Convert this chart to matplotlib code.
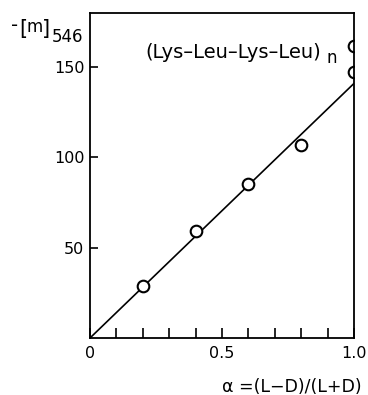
import matplotlib
matplotlib.use("Agg")
import matplotlib.pyplot as plt
import numpy as np

# measured molar rotation vs. enantiomeric excess
alpha = [0.2, 0.4, 0.6, 0.8, 1.0, 1.0]
rotation = [29, 59, 85.5, 107, 147.5, 162]

# linear fit through the origin
fit_x = [0.0, 1.0]
fit_slope = 141

x_major = [0, 0.5, 1.0]
x_major_labels = ["0", "0.5", "1.0"]
x_minor = [0.1, 0.2, 0.3, 0.4, 0.6, 0.7, 0.8, 0.9]
y_major = [50, 100, 150]
y_major_labels = ["50", "100", "150"]

plt.rcParams['font.family'] = ['DejaVu Sans']

W, H = 368, 395
fig = plt.figure(figsize=(W/100, H/100), dpi=100)
ax = fig.add_axes([90/W, 1 - 338/H, (354 - 90)/W, (338 - 13)/H])

ax.plot(fit_x, [fit_slope * v for v in fit_x], color='black', lw=1.2, zorder=2)
pts = ax.scatter(alpha, rotation, s=70, facecolors='white', edgecolors='black',
                 linewidths=1.5, zorder=3)
pts.set_clip_path(ax.patch)

ax.set_xlim(0, 1.0)
ax.set_ylim(0, 180)

ax.set_xticks(x_major)
ax.set_xticklabels(x_major_labels)
ax.set_xticks(x_minor, minor=True)
ax.set_yticks(y_major)
ax.set_yticklabels(y_major_labels)

ax.tick_params(axis='both', which='both', direction='in', width=1.2,
               labelsize=11.5, colors='black')
ax.tick_params(axis='x', which='both', length=7, pad=6)
ax.tick_params(axis='y', which='major', length=6, pad=4)

for s in ax.spines.values():
    s.set_linewidth(1.3)
    s.set_zorder(4)

# polymer label
fig.text(145/W, 1 - 58/H, '(Lys–Leu–Lys–Leu)', fontsize=14,
         ha='left', va='baseline')
fig.text(327/W, 1 - 63/H, 'n', fontsize=12, ha='left', va='baseline')

# y-axis quantity: -[m]546
fig.text(15/W, 1 - 31/H, '-', fontsize=14, ha='center', va='baseline')
fig.text(23.5/W, 1 - 34.5/H, '[', fontsize=15, ha='center', va='baseline')
fig.text(34.5/W, 1 - 32/H, 'm', fontsize=12, ha='center', va='baseline')
fig.text(46.5/W, 1 - 34.5/H, ']', fontsize=15, ha='center', va='baseline')
fig.text(67.5/W, 1 - 42/H, '546', fontsize=12, ha='center', va='baseline')

fig.text(362/W, 1 - 392/H, 'α =(L−D)/(L+D)', fontsize=12.5,
         ha='right', va='baseline')

fig.savefig('out.png', dpi=100)
